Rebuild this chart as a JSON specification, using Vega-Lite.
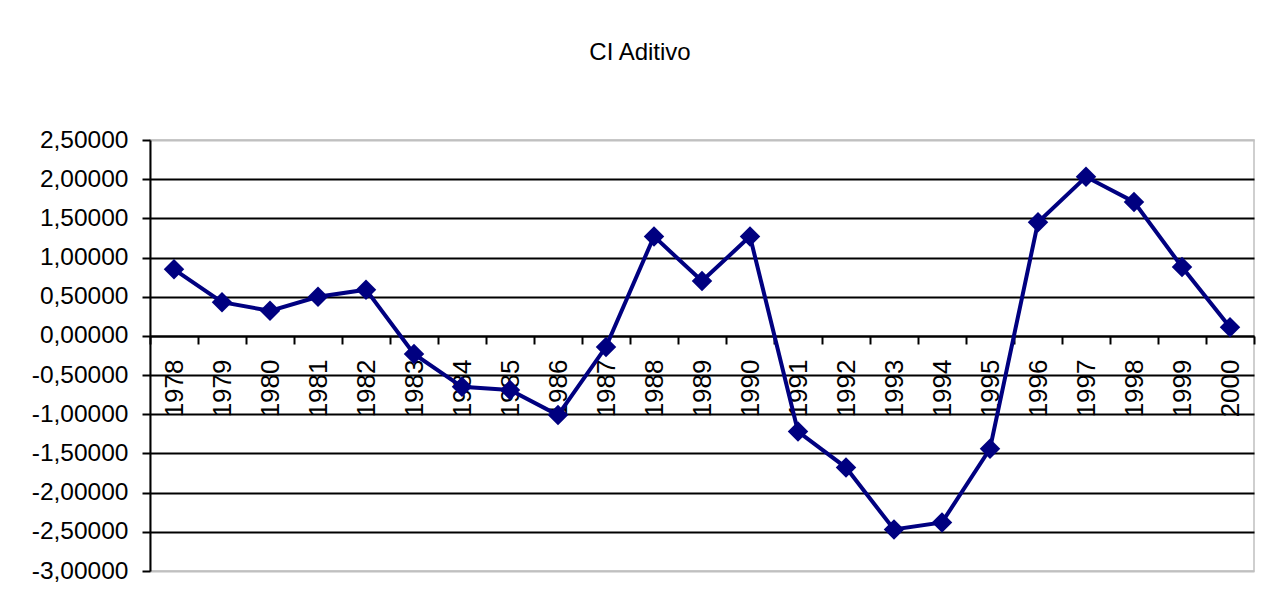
{
  "$schema": "https://vega.github.io/schema/vega-lite/v6.json",
  "width": 1104,
  "height": 431,
  "autosize": {"type": "none"},
  "padding": {"left": 150, "top": 140, "right": 9, "bottom": 41},
  "background": "white",
  "title": {"text": "CI Aditivo", "font": "Liberation Sans", "fontSize": 24, "fontWeight": "normal", "color": "black", "anchor": "middle", "dx": -62, "offset": 62},
  "data": {"values": [
    {"year": "1978", "value": 0.85},
    {"year": "1979", "value": 0.43},
    {"year": "1980", "value": 0.32},
    {"year": "1981", "value": 0.50},
    {"year": "1982", "value": 0.59},
    {"year": "1983", "value": -0.23},
    {"year": "1984", "value": -0.65},
    {"year": "1985", "value": -0.69},
    {"year": "1986", "value": -1.01},
    {"year": "1987", "value": -0.14},
    {"year": "1988", "value": 1.27},
    {"year": "1989", "value": 0.70},
    {"year": "1990", "value": 1.27},
    {"year": "1991", "value": -1.22},
    {"year": "1992", "value": -1.68},
    {"year": "1993", "value": -2.47},
    {"year": "1994", "value": -2.38},
    {"year": "1995", "value": -1.44},
    {"year": "1996", "value": 1.45},
    {"year": "1997", "value": 2.03},
    {"year": "1998", "value": 1.71},
    {"year": "1999", "value": 0.88},
    {"year": "2000", "value": 0.11}
  ]},
  "encoding": {
    "x": {"field": "year", "type": "ordinal", "bandPosition": 0.5,
      "scale": {"type": "band", "paddingInner": 0, "paddingOuter": 0},
      "axis": {"title": null, "offset": -235, "domainColor": "black", "domainWidth": 2, "tickColor": "black", "tickWidth": 2, "tickSize": 8, "tickBand": "extent", "labelAngle": -90, "labelFont": "Liberation Sans", "labelFontSize": 26, "labelColor": "black", "labelPadding": 15, "labelOverlap": false, "labelBound": false, "labelFlush": false, "grid": false}
    },
    "y": {"field": "value", "type": "quantitative",
      "scale": {"domain": [-3, 2.5], "nice": false, "zero": false},
      "axis": {"title": null, "values": [-3, -2.5, -2, -1.5, -1, -0.5, 0, 0.5, 1, 1.5, 2, 2.5],
        "labelExpr": "replace(replace(format(datum.value, '.5f'), '.', ','), '\u2212', '-')",
        "domainColor": "black", "domainWidth": 2, "tickColor": "black", "tickWidth": 2, "tickSize": 8,
        "labelFont": "Liberation Sans", "labelFontSize": 24.5, "labelColor": "black", "labelPadding": 14,
        "grid": true, "gridColor": {"condition": {"test": "datum.value == 2.5 || datum.value == -3", "value": "#c0c0c0"}, "value": "black"}, "gridWidth": 2, "gridOpacity": 1}
    }
  },
  "layer": [
    {"mark": {"type": "line", "color": "#000080", "strokeWidth": 4}},
    {"mark": {"type": "point", "shape": "diamond", "filled": true, "size": 420, "color": "#000080", "opacity": 1}}
  ],
  "config": {"view": {"stroke": "#c0c0c0", "strokeWidth": 1.5}}
}
